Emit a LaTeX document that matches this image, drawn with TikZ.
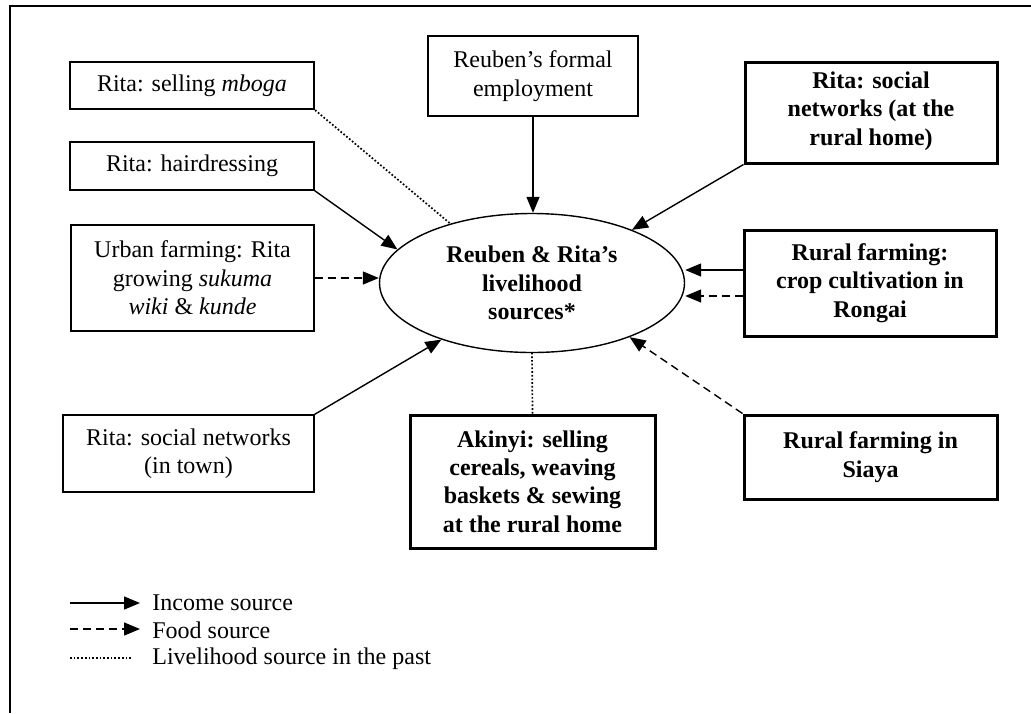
\documentclass[tikz,border=0pt]{standalone}
\usepackage{fontspec}
\setmainfont{Liberation Serif}
\usetikzlibrary{arrows.meta,shapes.geometric}

\newcommand{\boxfont}{\fontsize{12}{14.2}\selectfont}

\tikzset{
  >={Triangle[length=8pt,width=6.5pt]},
  plainbox/.style={draw,line width=0.65pt,align=center,inner sep=2pt,font=\boxfont},
  midbox/.style={plainbox,line width=1.1pt},
  boldbox/.style={plainbox,line width=1.5pt,font=\boxfont\bfseries},
  income/.style={->,line width=0.7pt},
  food/.style={->,line width=0.7pt,dash pattern=on 4pt off 2.5pt},
  past/.style={line width=0.85pt,dash pattern=on 0.85pt off 1pt},
  legendtext/.style={anchor=west,inner xsep=6pt,inner ysep=0pt,font=\boxfont},
}

\begin{document}
\begin{tikzpicture}[x=0.5pt,y=-0.5pt]
  \useasboundingbox (0,0) rectangle (1031,713);
  % frame
  \draw[line width=0.7pt] (10,713) -- (10,6) -- (1031,6);

  % centre
  \node[ellipse,draw,line width=0.7pt,minimum width=152.5pt,minimum height=69.5pt,
        inner sep=0pt,align=center,font=\boxfont\bfseries] (src) at (532,283)
        {Reuben \& Rita's\\livelihood\\sources*};

  % sources on the left
  \node[midbox,minimum width=122pt,minimum height=23.5pt] (mboga) at (192,85.5)
        {Rita: selling \textit{mboga}};
  \node[plainbox,minimum width=122pt,minimum height=24pt] (hair) at (192,166)
        {Rita: hairdressing};
  \node[plainbox,minimum width=121.5pt,minimum height=53pt] (urban) at (192.5,278)
        {Urban farming: Rita\\growing \textit{sukuma}\\\textit{wiki} \& \textit{kunde}};
  \node[plainbox,minimum width=125.5pt,minimum height=38.5pt] (soctown) at (188.5,453.5)
        {Rita: social networks\\(in town)};

  % sources on top and below
  \node[plainbox,minimum width=105pt,minimum height=40pt] (formal) at (533,76)
        {Reuben's formal\\employment};
  \node[boldbox,minimum width=122.5pt,minimum height=66.5pt] (akinyi) at (532.5,481.5)
        {Akinyi: selling\\cereals, weaving\\baskets \& sewing\\at the rural home};

  % sources on the right
  \node[boldbox,minimum width=126pt,minimum height=50.5pt,text depth=4pt] (socrural) at (871,112.5)
        {Rita: social\\networks (at the\\rural home)};
  \node[boldbox,minimum width=126pt,minimum height=53pt] (crop) at (870,283)
        {Rural farming:\\crop cultivation in\\Rongai};
  \node[boldbox,minimum width=126.5pt,minimum height=42pt] (siaya) at (870.5,457)
        {Rural farming in\\Siaya};

  % connectors
  \draw[past] (mboga.south east) -- (src.144);
  \draw[income] (hair.south east) -- (src.166);
  \draw[food] (urban.east) -- (urban.east -| src.west);
  \draw[income] (soctown.north east) -- (src.212);
  \draw[income] (formal.south) -- (formal.south |- src.north);
  \draw[past] (akinyi.north) -- (src.south);
  \draw[income] (socrural.south west) -- (src.28);
  \draw[income] ([yshift=6.5pt]crop.west) -- ([yshift=6.5pt]crop.west -| src.east);
  \draw[food] ([yshift=-6.5pt]crop.west) -- ([yshift=-6.5pt]crop.west -| src.east);
  \draw[food] (siaya.north west) -- (src.-29);

  % legend
  \coordinate (incstart) at (70,603);
  \coordinate (foodstart) at (70,629);
  \coordinate (paststart) at (70,658);
  \node[legendtext] (inc) at (140,603) {Income source};
  \node[legendtext] (foodleg) at (140,630) {Food source};
  \node[legendtext] (pastleg) at (140,659) {Livelihood source in the past};
  \draw[income] (incstart) -- (inc.west);
  \draw[food] (foodstart) -- (foodleg.west |- foodstart);
  \draw[past,shorten >=4pt] (paststart) -- (pastleg.west |- paststart);
\end{tikzpicture}
\end{document}
